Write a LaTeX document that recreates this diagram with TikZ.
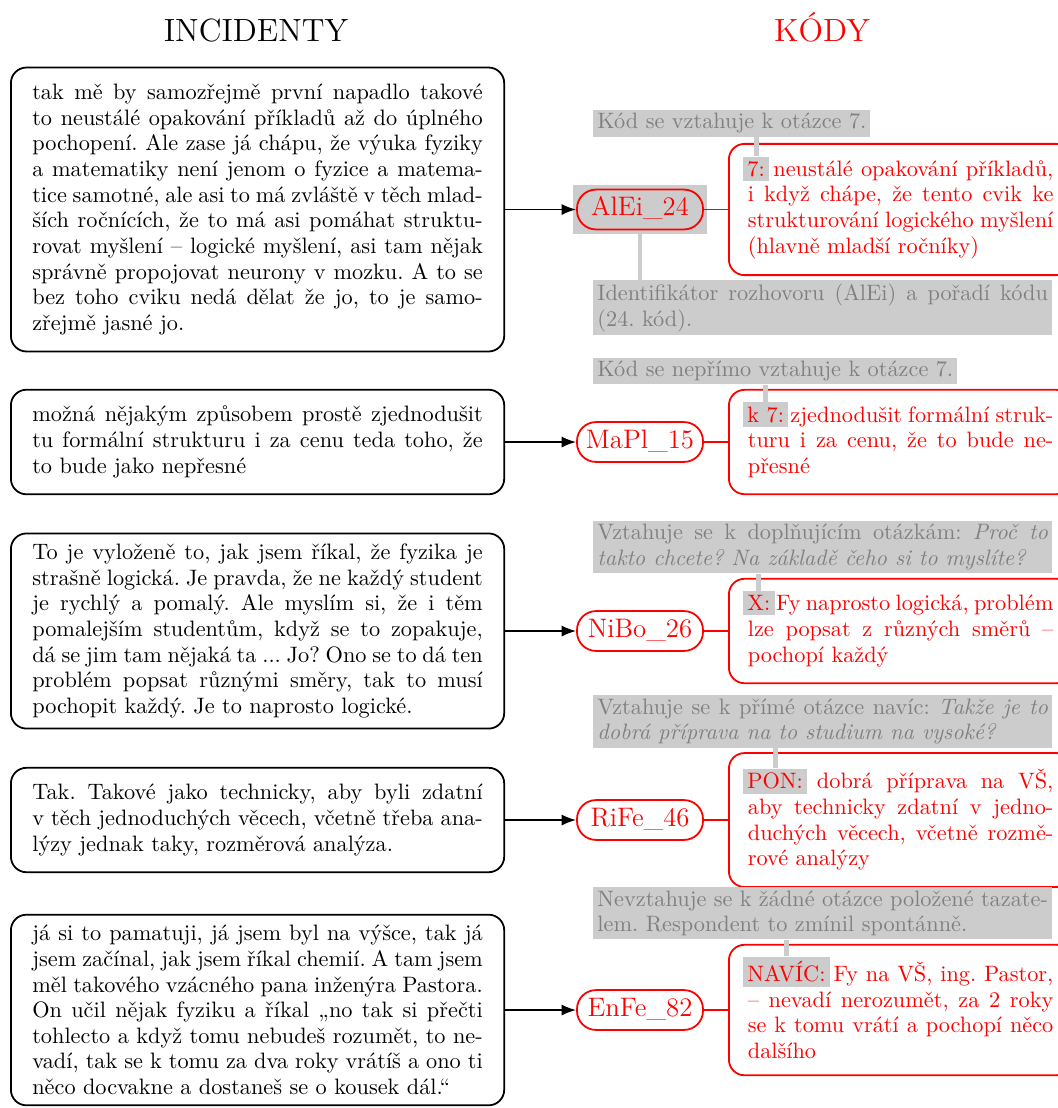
\documentclass[tikz,border=0pt]{standalone}
\usetikzlibrary{arrows.meta,fit,backgrounds}
\hfuzz=30pt \hbadness=10000 \vbadness=10000
\begin{document}
\begin{tikzpicture}[x=0.4484pt,y=-0.4484pt,
  every node/.style={font=\fontsize{10}{11.5}\selectfont\frenchspacing},
  inc/.style={draw=black, thick, rounded corners=7pt, text width=202pt, align=justify, inner xsep=9.6pt, inner ysep=7.4pt, anchor=west},
  idn/.style={draw=red, thick, text=red, rounded corners=8.5pt, font=\large, inner xsep=3pt, inner ysep=3.33pt, text height=8.4pt, text depth=2.8pt, minimum width=56.5pt},
  codebox/.style={draw=red, thick, text=red, rounded corners=7pt, text width=137pt, align=justify, inner xsep=8.5pt, inner ysep=7.4pt, anchor=west},
  ann/.style={fill=gray!40, text=gray, inner xsep=1.8pt, inner ysep=1.5pt, anchor=south west},
  annw/.style={ann, text width=202pt, align=justify},
  hl/.style={fill=gray!40, text=red, inner sep=2pt, anchor=base west},
  gline/.style={draw=gray!40, line width=2.2pt},
  arr/.style={-{Latex[length=6.5pt,width=5pt]}, thick},
  rl/.style={draw=red, thick}
]
\useasboundingbox (0,0) rectangle (1058,1108);
\clip (0,0) rectangle (1058,1108);
\coordinate (xid) at (640,0);
\coordinate (xcb) at (728,0);
\coordinate (xann) at (593,0);

% titles
\node[font=\Large, anchor=base] (t1) at (256,41.5) {INCIDENTY};
\node[font=\Large, text=red, anchor=base] (t2) at (822,41.5) {KÓDY};

% incidents
\node[inc] (L1) at (10,209.5) {tak mě by samozřejmě první napadlo takové\linebreak
to neustálé opakování příkladů až do úplného\linebreak
pochopení. Ale zase já chápu, že výuka fyziky\linebreak
a matematiky není jenom o fyzice a matema-\linebreak
tice samotné, ale asi to má zvláště v těch mlad-\linebreak
ších ročnících, že to má asi pomáhat struktu-\linebreak
rovat myšlení – logické myšlení, asi tam nějak\linebreak
správně propojovat neurony v mozku. A to se\linebreak
bez toho cviku nedá dělat že jo, to je samo-\linebreak
zřejmě jasné jo.};

\node[inc] (L2) at (10,442) {možná nějakým způsobem prostě zjednodušit\linebreak
tu formální strukturu i za cenu teda toho, že\linebreak
to bude jako nepřesné};

\node[inc, inner ysep=4.7pt] (L3) at (10,631) {To je vyloženě to, jak jsem říkal, že fyzika je\linebreak
strašně logická. Je pravda, že ne každý student\linebreak
je rychlý a pomalý. Ale myslím si, že i těm\linebreak
pomalejším studentům, když se to zopakuje,\linebreak
dá se jim tam nějaká ta ... Jo? Ono se to dá ten\linebreak
problém popsat různými směry, tak to musí\linebreak
pochopit každý. Je to naprosto logické.};

\node[inc] (L4) at (10,820) {Tak. Takové jako technicky, aby byli zdatní\linebreak
v těch jednoduchých věcech, včetně třeba ana-\linebreak
lýzy jednak taky, rozměrová analýza.};

\node[inc, inner ysep=4.7pt] (L5) at (10,1010) {já si to pamatuji, já jsem byl na výšce, tak já\linebreak
jsem začínal, jak jsem říkal chemií. A tam jsem\linebreak
měl takového vzácného pana inženýra Pastora.\linebreak
On učil nějak fyziku a říkal „no tak si přečti\linebreak
tohlecto a když tomu nebudeš rozumět, to ne-\linebreak
vadí, tak se k tomu za dva roky vrátíš a ono ti\linebreak
něco docvakne a dostaneš se o kousek dál.“};

% identifiers
\node[idn] (I1) at (L1.east -| xid) {AlEi\_24};
\node[idn] (I2) at (L2.east -| xid) {MaPl\_15};
\node[idn] (I3) at (L3.east -| xid) {NiBo\_26};
\node[idn] (I4) at (L4.east -| xid) {RiFe\_46};
\node[idn] (I5) at (L5.east -| xid) {EnFe\_82};

% code boxes
\node[codebox] (C1) at (L1.east -| xcb) {\phantom{7:} neustálé opakování příkladů,\linebreak
i když chápe, že tento cvik ke\linebreak
strukturování logického myšlení\linebreak
(hlavně mladší ročníky)};
\node[codebox] (C2) at (L2.east -| xcb) {\phantom{k 7:} zjednodušit formální struk-\linebreak
turu i za cenu, že to bude ne-\linebreak
přesné};
\node[codebox] (C3) at (L3.east -| xcb) {\phantom{X:} Fy naprosto logická, problém\linebreak
lze popsat z různých směrů –\linebreak
pochopí každý};
\node[codebox] (C4) at (L4.east -| xcb) {\phantom{PON:} dobrá příprava na VŠ,\linebreak
aby technicky zdatní v jedno-\linebreak
duchých věcech, včetně rozmě-\linebreak
rové analýzy};
\node[codebox] (C5) at (L5.east -| xcb) {\phantom{NAVÍC:} Fy na VŠ, ing. Pastor,\linebreak
– nevadí nerozumět, za 2 roky\linebreak
se k tomu vrátí a pochopí něco\linebreak
dalšího};

% highlighted labels
\node[hl] (H1) at ([xshift=6.5pt]C1.base west) {7:};
\node[hl] (H2) at ([xshift=6.5pt]C2.base west) {k 7:};
\node[hl] (H3) at ([xshift=6.5pt]C3.base west) {X:};
\node[hl] (H4) at ([xshift=6.5pt]C4.base west) {PON:};
\node[hl] (H5) at ([xshift=6.5pt]C5.base west) {NAVÍC:};

% annotations
\coordinate (C1t) at ([yshift=2.7pt]C1.north west);
\coordinate (C2t) at ([yshift=1.8pt]C2.north west);
\coordinate (C3t) at ([yshift=1.8pt]C3.north west);
\coordinate (C4t) at ([yshift=1.8pt]C4.north west);
\coordinate (C5t) at ([yshift=1.8pt]C5.north west);
\node[ann] (A1) at (C1t -| xann) {Kód se vztahuje k otázce 7.};
\node[ann] (A2) at (C2t -| xann) {Kód se nepřímo vztahuje k otázce 7.};
\node[annw] (A3) at (C3t -| xann) {Vztahuje se k doplňujícím otázkám: \textit{Proč to\linebreak takto chcete? Na základě čeho si to myslíte?}};
\node[annw] (A4) at (C4t -| xann) {Vztahuje se k přímé otázce navíc: \textit{Takže je to\linebreak dobrá příprava na to studium na vysoké?}};
\node[annw] (A5) at (C5t -| xann) {Nevztahuje se k žádné otázce položené tazate-\linebreak lem. Respondent to zmínil spontánně.};
\node[annw, anchor=north west] (A1b) at (593,280) {Identifikátor rozhovoru (AlEi) a pořadí kódu\linebreak (24. kód).};

% background of the first identifier
\begin{scope}[on background layer]
\node[fit=(I1), fill=gray!40, inner sep=1.6pt] (I1bg) {};
\end{scope}

% connectors
\foreach \i in {1,...,5}{
  \draw[arr] (L\i.east) -- (I\i.west);
  \draw[rl] (I\i.east) -- (C\i.west);
  \draw[gline] (H\i.north) -- (H\i.north |- A\i.south);
}
\draw[gline] (I1bg.south) -- (I1bg.south |- A1b.north);
\end{tikzpicture}
\end{document}
